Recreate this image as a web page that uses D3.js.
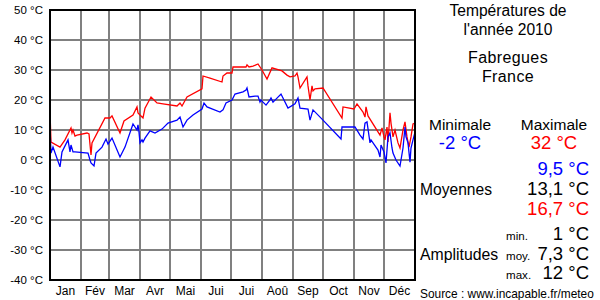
<!DOCTYPE html>
<html><head><meta charset="utf-8">
<script src="https://cdn.jsdelivr.net/npm/d3@7"></script>
<style>
body{margin:0;background:#fff;}
svg{display:block;font-family:"Liberation Sans",Arial,sans-serif;}
</style></head>
<body>
<div id="chart"></div>
<script>
// ---- data ----
const monthLabels = ["Jan","Fév","Mar","Avr","Mai","Jui","Jui","Aoû","Sep","Oct","Nov","Déc"];
const monthStartDays = [0,31,59,90,120,151,181,212,243,273,304,334,365];
const yTicks = [50,40,30,20,10,0,-10,-20,-30,-40];

const maxDays = [0,1,10,15,21,22,23,25,27,37,39,41,42,55,60,62,70,74,83,87,88,90,93,95,101,107,113,127,130,132,137,152,153,160,172,173,177,182,183,196,197,199,203,208,212,217,222,232,237,240,245,247,248,250,257,258,260,262,263,265,273,292,293,304,307,313,315,316,318,330,332,334,335,337,338,340,341,343,345,348,350,353,355,357,359,361,363,365];
const maxTemps = [16,6,4.3,6.7,10.7,9,10,8,8.3,9,8.7,1.7,5.7,14,14,14.7,9,13,15,17.7,15.7,15,14,17.3,21,19,18.7,18,19,18,21,23.7,28,27.3,26,28,29,29,31,31,31.7,31,31.3,32,30,27,30.7,29.7,28.3,27.7,28,29,27.7,24,27.7,24.7,20,24.7,23,23.7,24,14,17.7,17,18.7,16,14.3,17.7,14.7,8.3,10.7,7.7,6.7,11,6,15.7,12.3,7.7,10,5.7,4,10,12.7,7.7,4.3,7.7,12,12.3];

const minDays = [0,1,3,10,12,18,20,21,23,25,38,40,41,44,46,52,56,58,62,70,75,83,85,87,88,89,90,92,93,95,100,105,112,118,127,130,133,137,143,152,154,157,170,173,176,182,185,193,196,197,199,205,208,210,211,213,216,220,221,223,226,231,238,245,248,250,258,260,263,273,291,292,305,310,313,315,317,320,321,328,330,331,334,336,338,340,342,343,346,350,353,355,356,358,360,361,363,365];
const minTemps = [10.7,2.3,4.3,-2.3,2.7,6.7,2.7,5,2.7,2.7,2.3,0,-1,-2,2.3,4.3,7,5.3,7.3,1,4.3,12,11,10,11.7,9.3,5.7,6.7,6,7.3,9.7,9,10.3,12.3,13.3,14.3,11,13.3,15,17,19,17.7,16,16.7,19,20,22,22.7,23.3,24,21,21.3,21.3,19.3,20,19.3,18.3,20,20.7,19.3,20.3,22,17.3,18.7,20.7,17.3,17,13.3,16.7,13.3,7,11,11,8.3,7,12.3,12.7,5.7,6.7,3.3,1,5,2.7,-1,7.7,9,4,2.3,0,-2,4,11,7.7,5.7,-0.7,4,6.7,9.3];

const titleLines = ["Températures de","l'année 2010"];
const placeLines = ["Fabregues","France"];
const extremeLabels = ["Minimale","Maximale"];
const extremeValues = ["-2 °C","32 °C"];
const meanValues = ["9,5 °C","13,1 °C","16,7 °C"];
const amplitudeKeys = ["min.","moy.","max."];
const amplitudeValues = ["1 °C","7,3 °C","12 °C"];
const sourceText = "Source : www.incapable.fr/meteo";

// ---- drawing ----
const W = 600, H = 300;
const svg = d3.select("#chart").append("svg").attr("width", W).attr("height", H);
const x = d3.scaleLinear().domain([0,365]).range([50,415]);
const y = d3.scaleLinear().domain([-40,50]).range([280,10]);

const grid = svg.append("g").attr("shape-rendering","crispEdges");
grid.selectAll("line.h").data(yTicks.filter(t => t>-40 && t<50)).enter().append("line")
  .attr("x1", x(0)).attr("x2", x(365)).attr("y1", d=>y(d)).attr("y2", d=>y(d))
  .attr("stroke","#808080").attr("stroke-width",2);
grid.selectAll("line.v").data(monthStartDays.slice(1,-1)).enter().append("line")
  .attr("y1", y(50)).attr("y2", y(-40)).attr("x1", d=>x(d)).attr("x2", d=>x(d))
  .attr("stroke","#808080").attr("stroke-width",2);

const line = d3.line().x(d=>x(d[0])).y(d=>y(d[1]));
svg.append("path").datum(maxDays.map((d,i)=>[d,maxTemps[i]]))
  .attr("d", line).attr("fill","none").attr("stroke","#ff0000").attr("stroke-width",1.3);
svg.append("path").datum(minDays.map((d,i)=>[d,minTemps[i]]))
  .attr("d", line).attr("fill","none").attr("stroke","#0000ff").attr("stroke-width",1.3);

// frame
const frame = svg.append("g").attr("shape-rendering","crispEdges");
frame.append("line").attr("x1",x(0)).attr("x2",x(0)).attr("y1",y(50)-1).attr("y2",y(-40)+1).attr("stroke","#000").attr("stroke-width",2);
frame.append("line").attr("x1",x(0)).attr("x2",x(365)+1).attr("y1",y(50)).attr("y2",y(50)).attr("stroke","#000").attr("stroke-width",2);
frame.append("line").attr("x1",x(0)).attr("x2",x(365)+1).attr("y1",y(-40)).attr("y2",y(-40)).attr("stroke","#000").attr("stroke-width",2);
frame.append("line").attr("x1",x(365)).attr("x2",x(365)).attr("y1",y(50)).attr("y2",y(-40)).attr("stroke","#000").attr("stroke-width",2);

// y labels
svg.selectAll("text.yl").data(yTicks).enter().append("text")
  .attr("x",43).attr("y",d=>y(d)).attr("dy","0.35em").attr("text-anchor","end")
  .attr("font-size",11.5).attr("fill","#000").text(d=>d+" °C");
// month labels
svg.selectAll("text.ml").data(monthLabels).enter().append("text")
  .attr("x",(d,i)=>x((monthStartDays[i]+monthStartDays[i+1])/2)).attr("y",295)
  .attr("text-anchor","middle").attr("font-size",12).attr("fill","#000").text(d=>d);

// right panel
const cx = 508;
svg.selectAll("text.t").data(titleLines).enter().append("text")
  .attr("x",cx).attr("y",(d,i)=>16+i*19).attr("text-anchor","middle").attr("font-size",15.6).text(d=>d);
svg.selectAll("text.p").data(placeLines).enter().append("text")
  .attr("x",cx).attr("y",(d,i)=>63+i*19).attr("text-anchor","middle").attr("font-size",16)
  .attr("letter-spacing",0.4).text(d=>d);
const exX = [460,554], exCol = ["#0000ff","#ff0000"];
svg.selectAll("text.el").data(extremeLabels).enter().append("text")
  .attr("x",(d,i)=>exX[i]).attr("y",130).attr("text-anchor","middle").attr("font-size",15.5).text(d=>d);
svg.selectAll("text.ev").data(extremeValues).enter().append("text")
  .attr("x",(d,i)=>exX[i]).attr("y",149).attr("text-anchor","middle").attr("font-size",18.5)
  .attr("fill",(d,i)=>exCol[i]).text(d=>d);
const meanCol = ["#0000ff","#000000","#ff0000"];
svg.selectAll("text.mv").data(meanValues).enter().append("text")
  .attr("x",589).attr("y",(d,i)=>175+i*20).attr("text-anchor","end").attr("font-size",18.5)
  .attr("fill",(d,i)=>meanCol[i]).text(d=>d);
svg.append("text").attr("x",420).attr("y",195).attr("font-size",15.6).text("Moyennes");
svg.selectAll("text.ak").data(amplitudeKeys).enter().append("text")
  .attr("x",506).attr("y",(d,i)=>240+i*19.5).attr("font-size",11.6).text(d=>d);
svg.selectAll("text.av").data(amplitudeValues).enter().append("text")
  .attr("x",589).attr("y",(d,i)=>240+i*19.5).attr("text-anchor","end").attr("font-size",18.5).text(d=>d);
svg.append("text").attr("x",420).attr("y",260).attr("font-size",15.8).text("Amplitudes");
svg.append("text").attr("x",420).attr("y",298).attr("font-size",11.9).text(sourceText);
</script>
</body></html>
